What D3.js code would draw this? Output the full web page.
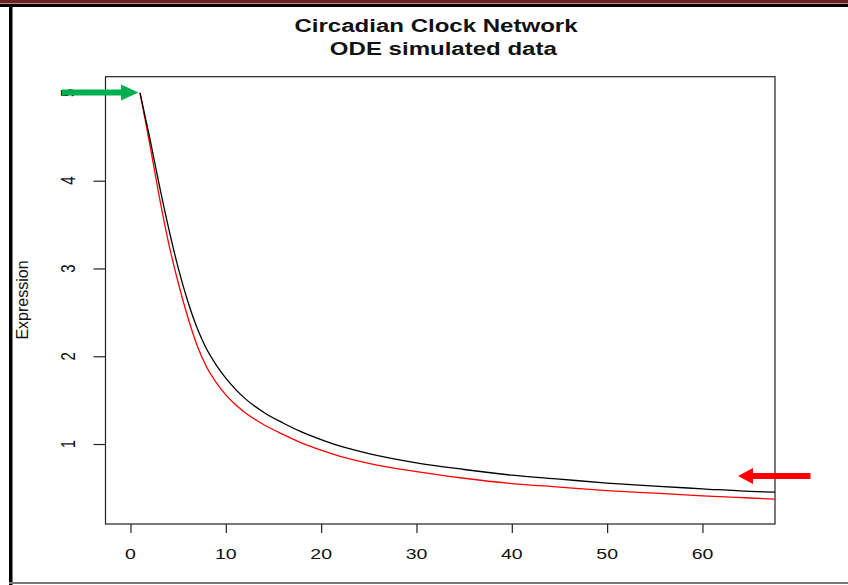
<!DOCTYPE html>
<html>
<head>
<meta charset="utf-8">
<script src="https://cdn.jsdelivr.net/npm/d3@7"></script>
<style>
  html, body { margin: 0; padding: 0; background: #fff; }
  svg { display: block; font-family: "Liberation Sans", Arial, sans-serif; }
</style>
</head>
<body>
<svg id="chart" width="848" height="585"></svg>
<script>
// ---- data ----
const titleLines = ["Circadian Clock Network", " ODE simulated data"];
const yLabel = "Expression";
const xTicks = [0, 10, 20, 30, 40, 50, 60];
const yTicks = [1, 2, 3, 4, 5];
const time = [1, 2, 3, 4, 5, 6, 7, 8, 9, 10, 11, 12, 14, 16, 18, 20, 22, 25, 30, 35, 40, 45, 50, 55, 60, 65, 68];
const blackSeries = [5.0, 4.50, 3.96, 3.46, 3.01, 2.63, 2.32, 2.08, 1.90, 1.75, 1.625, 1.52, 1.36, 1.24, 1.135, 1.05, 0.975, 0.89, 0.785, 0.71, 0.645, 0.60, 0.555, 0.52, 0.49, 0.46, 0.45];
const redSeries   = [5.0, 4.43, 3.83, 3.29, 2.84, 2.45, 2.12, 1.875, 1.70, 1.56, 1.45, 1.36, 1.22, 1.11, 1.01, 0.93, 0.86, 0.78, 0.685, 0.61, 0.55, 0.51, 0.47, 0.44, 0.41, 0.385, 0.37];

const svg = d3.select("#chart");
const W = 848, H = 585;
const box = {left: 105.5, right: 775, top: 76.7, bottom: 524};
const SX = 1.3; // horizontal stretch of the original picture

// ---- frame decorations ----
svg.append("rect").attr("x", 0).attr("y", 0).attr("width", W).attr("height", 3.5).attr("fill", "#6b2227");
svg.append("rect").attr("x", 0).attr("y", 4).attr("width", W).attr("height", 3).attr("fill", "#000");
svg.append("rect").attr("x", 9).attr("y", 4).attr("width", 3.5).attr("height", H - 4).attr("fill", "#000");
svg.append("rect").attr("x", 9).attr("y", 582).attr("width", W - 9).attr("height", 2).attr("fill", "#777");

// ---- scales ----
const x = d3.scaleLinear().domain([-2.62, 67.61]).range([box.left, box.right]);
const y = d3.scaleLinear().domain([0.0889, 5.185]).range([box.bottom, box.top]);

// ---- plot box ----
svg.append("rect")
  .attr("x", box.left).attr("y", box.top)
  .attr("width", box.right - box.left).attr("height", box.bottom - box.top)
  .attr("fill", "none").attr("stroke", "#222").attr("stroke-width", 1.2);

// ---- x axis ----
const xAxis = d3.axisBottom(x).tickValues(xTicks).tickSize(9).tickFormat("");
const gx = svg.append("g").attr("transform", `translate(0,${box.bottom})`).call(xAxis);
gx.select(".domain").remove();
gx.selectAll(".tick line").attr("stroke", "#222").attr("stroke-width", 1.2);
svg.append("g").selectAll("text").data(xTicks).join("text")
  .attr("transform", d => `translate(${x(d)},559) scale(${SX},1)`)
  .attr("text-anchor", "middle")
  .attr("font-size", 15)
  .attr("fill", "#111")
  .text(d => d);

// ---- y axis ----
const yAxis = d3.axisLeft(y).tickValues(yTicks).tickSize(12).tickFormat("");
const gy = svg.append("g").attr("transform", `translate(${box.left},0)`).call(yAxis);
gy.select(".domain").remove();
gy.selectAll(".tick line").attr("stroke", "#222").attr("stroke-width", 1.2);
svg.append("g").selectAll("text").data(yTicks).join("text")
  .attr("transform", d => `translate(75,${y(d)}) scale(${SX},1) rotate(-90)`)
  .attr("text-anchor", "middle")
  .attr("font-size", 15)
  .attr("fill", "#111")
  .text(d => d);

svg.append("text")
  .attr("transform", `translate(28,300) rotate(-90)`)
  .attr("text-anchor", "middle")
  .attr("font-size", 16)
  .attr("fill", "#111")
  .text(yLabel);

// ---- title ----
svg.append("g").selectAll("text").data(titleLines).join("text")
  .attr("transform", (d, i) => `translate(${i === 0 ? 436 : 440},${i === 0 ? 32 : 55}) scale(${SX},1)`)
  .attr("text-anchor", "middle")
  .attr("font-size", 18.5)
  .attr("font-weight", "bold")
  .attr("fill", "#111")
  .attr("xml:space", "preserve")
  .style("white-space", "pre")
  .text(d => d);

// ---- lines ----
svg.append("clipPath").attr("id", "clip").append("rect")
  .attr("x", box.left).attr("y", box.top)
  .attr("width", box.right - box.left).attr("height", box.bottom - box.top);

const line = d3.line().x(d => x(d[0])).y(d => y(d[1])).curve(d3.curveMonotoneX);
const plot = svg.append("g").attr("clip-path", "url(#clip)");
plot.append("path").datum(time.map((t, i) => [t, redSeries[i]]))
  .attr("d", line).attr("fill", "none").attr("stroke", "#ff0000").attr("stroke-width", 1.3);
plot.append("path").datum(time.map((t, i) => [t, blackSeries[i]]))
  .attr("d", line).attr("fill", "none").attr("stroke", "#000").attr("stroke-width", 1.3);

// ---- annotation arrows ----
svg.append("path")
  .attr("d", "M62,89.5 L121,89.5 L121,84.5 L138.5,92.5 L121,100.5 L121,95.5 L62,95.5 Z")
  .attr("fill", "#00b050");
svg.append("path")
  .attr("d", "M810.5,473 L753,473 L753,468 L738,476 L753,484 L753,479 L810.5,479 Z")
  .attr("fill", "#ff0000");
</script>
</body>
</html>
